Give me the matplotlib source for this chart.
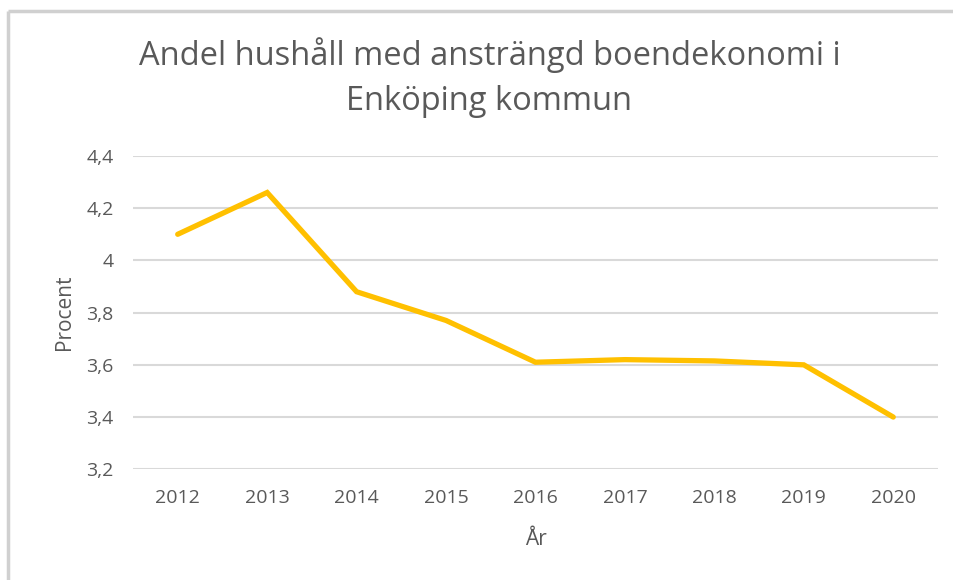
import matplotlib
matplotlib.use("Agg")
import matplotlib.pyplot as plt
from matplotlib.lines import Line2D

plt.rcParams["font.family"] = ["Open Sans", "DejaVu Sans"]

years = ["2012", "2013", "2014", "2015", "2016", "2017", "2018", "2019", "2020"]
andel = [4.10, 4.26, 3.88, 3.77, 3.61, 3.62, 3.615, 3.60, 3.40]
yticks = [3.2, 3.4, 3.6, 3.8, 4.0, 4.2, 4.4]
ytick_labels = ["3,2", "3,4", "3,6", "3,8", "4", "4,2", "4,4"]

TXT = "#595959"
GRID = "#D9D9D9"
LINE = "#FFC000"

fig = plt.figure(figsize=(9.54, 5.8), dpi=100)
ax = fig.add_axes([0.1394, 0.1909, 0.8438, 0.5402])

xs = list(range(len(years)))
ax.plot(xs, andel, color=LINE, lw=3.8, solid_capstyle="round", solid_joinstyle="miter")

ax.set_xlim(-0.5, len(years) - 0.5)
ax.set_ylim(3.2, 4.4)
ax.set_xticks(xs)
ax.set_xticklabels(years)
ax.set_yticks(yticks)
ax.set_yticklabels(ytick_labels)
ax.tick_params(axis="both", length=0, colors=TXT, labelsize=14)
ax.tick_params(axis="y", pad=14)
ax.tick_params(axis="x", pad=14)
ax.grid(axis="y", color=GRID, lw=1.5)
ax.set_axisbelow(True)
for s in ax.spines.values():
    s.set_visible(False)

ax.set_ylabel("Procent", color=TXT, fontsize=15, labelpad=8)
ax.set_xlabel("År", color=TXT, fontsize=15, labelpad=16)

fig.text(0.513, 0.905, "Andel hushåll med ansträngd boendekonomi i", ha="center",
         va="center", color=TXT, fontsize=23.5)
fig.text(0.513, 0.825, "Enköping kommun", ha="center", va="center", color=TXT, fontsize=23.5)

# ram runt diagrammet (skärmdump)
fig.add_artist(Line2D([0.008, 1.0], [0.981, 0.981], color="#D0D0D0", lw=2.5,
                      transform=fig.transFigure, solid_capstyle="butt"))
fig.add_artist(Line2D([0.008, 0.008], [0.0, 0.981], color="#D0D0D0", lw=2.5,
                      transform=fig.transFigure, solid_capstyle="butt"))

fig.savefig("out.png", dpi=100, facecolor="white")
